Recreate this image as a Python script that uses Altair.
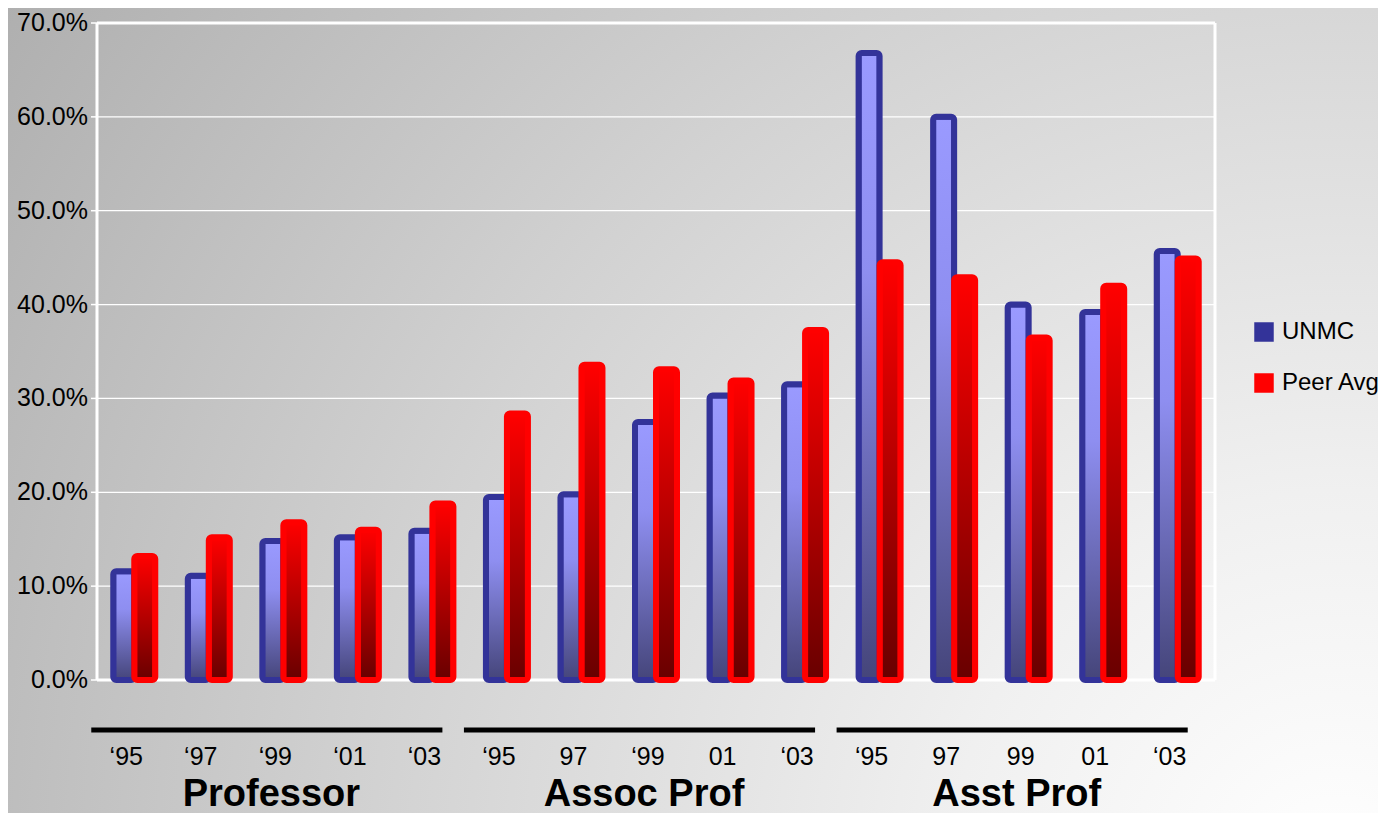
import altair as alt
import pandas as pd

# ---------------- data ----------------
groups = ["Professor", "Assoc Prof", "Asst Prof"]
year_labels = ["‘95", "‘97", "‘99", "‘01", "‘03",
               "‘95", "97", "‘99", "01", "‘03",
               "‘95", "97", "99", "01", "‘03"]
unmc = [11.6, 11.1, 14.8, 15.2, 15.9,
        19.5, 19.8, 27.5, 30.3, 31.5,
        66.8, 60.0, 40.0, 39.2, 45.7]
peer = [13.2, 15.2, 16.8, 16.0, 18.8,
        28.4, 33.6, 33.1, 31.9, 37.3,
        44.5, 42.9, 36.5, 42.0, 44.9]
series = ["UNMC", "Peer Avg"]
y_ticks = [0.0, 0.1, 0.2, 0.3, 0.4, 0.5, 0.6, 0.7]

# ---------------- layout ----------------
W, H = 1118, 657
PAD = {"left": 89, "top": 15, "right": 163, "bottom": 133}

idx = list(range(len(unmc)))
bars = pd.DataFrame({
    "idx": idx,
    "label": year_labels,
    "u": [v / 100 for v in unmc],
    "p": [v / 100 for v in peer],
})
grp = pd.DataFrame({
    "group": groups,
    "start": [0, 5, 10],
    "end": [4, 9, 14],
    "mid": [2, 7, 12],
})
ticks = pd.DataFrame({"t": y_ticks})
grid = pd.DataFrame({"t": y_ticks[1:-1]})
frame = pd.DataFrame({"t": [y_ticks[0], y_ticks[-1]]})
one = pd.DataFrame({"a": [0]})
leg = pd.DataFrame({"series": series})

x_scale = alt.Scale(domain=idx, paddingInner=0, paddingOuter=0)
y_scale = alt.Scale(domain=[0, 0.7], nice=False, zero=True)


def xo(field):
    return alt.X(field, type="ordinal", scale=x_scale, axis=None)


def yq(field):
    return alt.Y(field, type="quantitative", scale=y_scale, axis=None)


bg_grad = alt.Gradient(
    gradient="radial",
    stops=[alt.GradientStop(color="#ffffff", offset=0),
           alt.GradientStop(color="#f0f0f0", offset=0.22),
           alt.GradientStop(color="#d2d2d2", offset=0.55),
           alt.GradientStop(color="#a6a6a6", offset=1)],
    x1=0.97, y1=0.84, r1=0, x2=0.97, y2=0.84, r2=1.28,
)
background = alt.Chart(one).mark_rect(fill=bg_grad).encode(
    x=alt.value(-PAD["left"]), x2=alt.value(W + PAD["right"]),
    y=alt.value(-PAD["top"]), y2=alt.value(H + PAD["bottom"]),
)

gridlines = alt.Chart(grid).mark_rule(color="white", strokeWidth=1.2).encode(y=yq("t"))
frame_h = alt.Chart(frame).mark_rule(color="white", strokeWidth=3).encode(y=yq("t"))
frame_v = alt.Chart(pd.DataFrame({"a": [0, 1]})).mark_rule(color="white", strokeWidth=3).encode(
    x=alt.X("a:Q", scale=alt.Scale(domain=[0, 1], range=[0, W]), axis=None),
    y=alt.value(0), y2=alt.value(H))
tick_marks = alt.Chart(ticks).mark_rule(color="white", strokeWidth=1.5).encode(
    x=alt.value(-6), x2=alt.value(0), y=yq("t"))
y_labels = alt.Chart(ticks).mark_text(
    align="right", baseline="middle", fontSize=25,
    font="Liberation Sans", color="black"
).encode(x=alt.value(-9), y=yq("t"), text=alt.Text("t:Q", format=".1%"))

blue_grad = alt.Gradient(
    gradient="linear",
    stops=[alt.GradientStop(color="#9a9aff", offset=0),
           alt.GradientStop(color="#8e8ef0", offset=0.35),
           alt.GradientStop(color="#45457a", offset=1)],
    x1=0, x2=0, y1=0, y2=1)
red_grad = alt.Gradient(
    gradient="linear",
    stops=[alt.GradientStop(color="#ff0000", offset=0),
           alt.GradientStop(color="#680000", offset=1)],
    x1=0, x2=0, y1=0, y2=1)

unmc_bars = alt.Chart(bars).mark_bar(
    width=21, xOffset=-10.5, fill=blue_grad, stroke="#333399",
    strokeWidth=6, cornerRadius=3
).encode(x=xo("idx"), y=yq("u"))

peer_bars = alt.Chart(bars).mark_bar(
    width=21, xOffset=10.5, fill=red_grad, stroke="#ff0000",
    strokeWidth=6, cornerRadius=3
).encode(x=xo("idx"), y=yq("p"))

year_text = alt.Chart(bars).mark_text(
    fontSize=25, font="Liberation Sans", color="black",
    baseline="alphabetic", align="center", dx=-8
).encode(x=xo("idx"), y=alt.value(742), text="label:N")

group_lines = alt.Chart(grp).mark_rule(
    color="black", strokeWidth=5, xOffset=-43, x2Offset=10
).encode(x=xo("start"), x2="end:O", y=alt.value(707))

group_text = alt.Chart(grp).mark_text(
    fontSize=38, fontWeight="bold", font="Liberation Sans", color="black",
    baseline="alphabetic", align="center", dx=-12
).encode(x=xo("mid"), y=alt.value(783), text="group:N")

legend_layer = alt.Chart(leg).mark_square(filled=True, opacity=1).encode(
    color=alt.Color("series:N",
                    scale=alt.Scale(domain=series, range=["#333399", "#ff0000"]),
                    legend=alt.Legend(title=None, orient="none", legendX=1155,
                                      legendY=297, symbolType="square",
                                      symbolSize=380, labelFontSize=24,
                                      labelFont="Liberation Sans", labelColor="black",
                                      rowPadding=27, labelOffset=6, padding=0,
                                      symbolStrokeWidth=0, symbolOpacity=1))
).transform_filter("false")

chart = alt.layer(
    background, gridlines, frame_h, frame_v, tick_marks, y_labels,
    unmc_bars, peer_bars, year_text, group_lines, group_text, legend_layer
).properties(
    width=W, height=H,
    autosize=alt.AutoSizeParams(type="none"),
    padding=PAD,
).configure(background="#d0d0d0").configure_view(stroke=None)

chart.save("out.html", embed_options={"renderer": "svg", "actions": False})
